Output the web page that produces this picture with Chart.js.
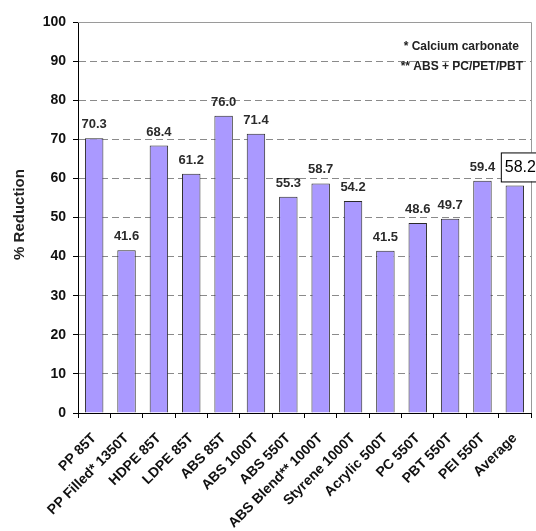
<!DOCTYPE html>
<html>
<head>
<meta charset="utf-8">
<script src="https://cdn.jsdelivr.net/npm/chart.js@4/dist/chart.umd.min.js"></script>
<style>
  html, body { margin: 0; padding: 0; background: #fff; }
  #wrap { width: 536px; height: 531px; position: relative; }
</style>
</head>
<body>
<div id="wrap"><canvas id="c" width="536" height="531"></canvas></div>
<script>
// Cycle-time reduction per material / press size
const categories = [
  'PP 85T', 'PP Filled* 1350T', 'HDPE 85T', 'LDPE 85T', 'ABS 85T', 'ABS 1000T',
  'ABS 550T', 'ABS Blend** 1000T', 'Styrene 1000T', 'Acrylic 500T', 'PC 550T',
  'PBT 550T', 'PEI 550T', 'Average'
];
const reduction = [70.3, 41.6, 68.4, 61.2, 76.0, 71.4, 55.3, 58.7, 54.2, 41.5, 48.6, 49.7, 59.4, 58.2];
const yTicks = [0, 10, 20, 30, 40, 50, 60, 70, 80, 90, 100];
const notes = ['* Calcium carbonate', '** ABS + PC/PET/PBT'];
const yTitle = '% Reduction';

const FONT = '"Liberation Sans", Arial, sans-serif';

// Value labels above bars, a boxed label for the average, the footnotes, frame and axis title
const decorations = {
  id: 'decorations',
  beforeDatasetsDraw(chart) {
    const { ctx, chartArea: a } = chart;
    ctx.save();
    ctx.strokeStyle = '#9a9a9a';
    ctx.lineWidth = 1;
    ctx.beginPath();
    ctx.moveTo(a.left, a.top + 0.5);
    ctx.lineTo(a.right + 0.5, a.top + 0.5);
    ctx.lineTo(a.right + 0.5, a.bottom);
    ctx.stroke();
    ctx.restore();
  },
  afterDraw(chart) {
    const { ctx, chartArea: a } = chart;
    const meta = chart.getDatasetMeta(0);
    const last = reduction.length - 1;
    ctx.save();
    ctx.textAlign = 'center';
    ctx.textBaseline = 'alphabetic';
    meta.data.forEach((bar, i) => {
      const txt = reduction[i].toFixed(1);
      if (i === last) {
        ctx.font = '16px ' + FONT;
        const w = ctx.measureText(txt).width;
        const x0 = bar.x - 14;
        const y1 = bar.y - 4;
        ctx.fillStyle = '#fff';
        ctx.fillRect(x0, y1 - 29, w + 12, 29);
        ctx.strokeStyle = '#000';
        ctx.lineWidth = 1;
        ctx.strokeRect(x0 + 0.5, y1 - 29 + 0.5, w + 12, 29);
        ctx.fillStyle = '#000';
        ctx.textAlign = 'left';
        ctx.fillText(txt, x0 + 4, y1 - 9);
        ctx.textAlign = 'center';
      } else {
        ctx.font = 'bold 13px ' + FONT;
        ctx.fillStyle = '#2b2b2b';
        ctx.fillText(txt, bar.x, bar.y - 10);
      }
    });
    ctx.font = 'bold 12px ' + FONT;
    ctx.fillStyle = '#222';
    ctx.textAlign = 'right';
    ctx.fillText(notes[0], a.right - 12, a.top + 28);
    ctx.fillText(notes[1], a.right - 8, a.top + 48);

    ctx.translate(20, (a.top + a.bottom) / 2 - 3);
    ctx.rotate(-Math.PI / 2);
    ctx.textAlign = 'center';
    ctx.textBaseline = 'middle';
    ctx.font = 'bold 15px ' + FONT;
    ctx.fillStyle = '#222';
    ctx.fillText(yTitle, 0, 0);
    ctx.restore();
  }
};

new Chart(document.getElementById('c'), {
  type: 'bar',
  data: {
    labels: categories,
    datasets: [{
      data: reduction,
      backgroundColor: 'rgb(170,153,255)',
      borderColor: '#2a2a2a',
      borderWidth: 1,
      categoryPercentage: 1,
      barPercentage: 0.57
    }]
  },
  options: {
    responsive: false,
    animation: false,
    layout: { padding: { top: 22, right: 5, left: 0, bottom: 0 } },
    plugins: { legend: { display: false }, tooltip: { enabled: false } },
    scales: {
      x: {
        grid: {
          drawOnChartArea: false,
          drawTicks: true,
          tickLength: 5,
          tickColor: '#000',
          offset: true
        },
        border: { color: '#000', width: 1 },
        ticks: {
          color: '#111',
          font: { family: FONT, size: 14, weight: 'bold' },
          minRotation: 45,
          maxRotation: 45,
          padding: 12,
          autoSkip: false
        },
        afterFit(scale) {
          scale.height = 118;
          scale.paddingLeft = 0;
          scale.paddingRight = 0;
        }
      },
      y: {
        min: 0,
        max: 100,
        afterBuildTicks(scale) { scale.ticks = yTicks.map(v => ({ value: v })); },
        grid: {
          color: (ctx) => (ctx.tick && (ctx.tick.value === 0 || ctx.tick.value === 100)) ? 'rgba(0,0,0,0)' : '#8a8a8a',
          tickColor: '#000',
          tickLength: 5,
          tickBorderDash: [],
          lineWidth: 1
        },
        border: { color: '#000', width: 1, dash: [7, 4] },
        ticks: {
          color: '#111',
          font: { family: FONT, size: 14, weight: 'bold' },
          padding: 7
        },
        afterFit(scale) {
          scale.width = 78;
          scale.paddingTop = 0;
          scale.paddingBottom = 0;
        }
      }
    }
  },
  plugins: [decorations]
});
</script>
</body>
</html>
